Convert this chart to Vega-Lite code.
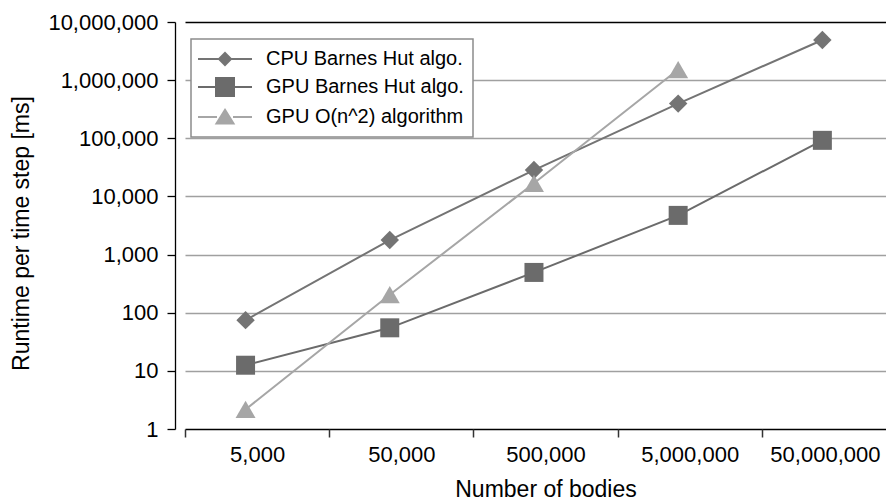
{
  "$schema": "https://vega.github.io/schema/vega-lite/v6.json",
  "autosize": "none",
  "padding": {"left": 175, "top": 22, "right": 0, "bottom": 72},
  "width": 711,
  "height": 407,
  "background": "white",
  "config": {"view": {"stroke": null}, "font": "Liberation Sans"},
  "data": {
    "values": [
      {"series": "CPU Barnes Hut algo.", "bodies": "5,000", "runtime": 74.5},
      {"series": "CPU Barnes Hut algo.", "bodies": "50,000", "runtime": 1775},
      {"series": "CPU Barnes Hut algo.", "bodies": "500,000", "runtime": 28400},
      {"series": "CPU Barnes Hut algo.", "bodies": "5,000,000", "runtime": 395000},
      {"series": "CPU Barnes Hut algo.", "bodies": "50,000,000", "runtime": 4910000},
      {"series": "GPU Barnes Hut algo.", "bodies": "5,000", "runtime": 12.5},
      {"series": "GPU Barnes Hut algo.", "bodies": "50,000", "runtime": 55},
      {"series": "GPU Barnes Hut algo.", "bodies": "500,000", "runtime": 493},
      {"series": "GPU Barnes Hut algo.", "bodies": "5,000,000", "runtime": 4720},
      {"series": "GPU Barnes Hut algo.", "bodies": "50,000,000", "runtime": 92200},
      {"series": "GPU O(n^2) algorithm", "bodies": "5,000", "runtime": 2.17},
      {"series": "GPU O(n^2) algorithm", "bodies": "50,000", "runtime": 204},
      {"series": "GPU O(n^2) algorithm", "bodies": "500,000", "runtime": 16800},
      {"series": "GPU O(n^2) algorithm", "bodies": "5,000,000", "runtime": 1520000}
    ]
  },
  "encoding": {
    "x": {
      "field": "bodies",
      "type": "ordinal",
      "bandPosition": 0.42,
      "scale": {
        "type": "band",
        "domain": ["5,000", "50,000", "500,000", "5,000,000", "50,000,000"],
        "range": [10, 731],
        "paddingInner": 0,
        "paddingOuter": 0
      },
      "axis": {
        "title": "Number of bodies",
        "tickBand": "extent",
        "domain": false,
        "grid": false,
        "labelAngle": 0,
        "labelFontSize": 22,
        "labelColor": "black",
        "labelPadding": 7,
        "labelOffset": {"condition": {"test": "datum.value === '50,000,000'", "value": -9}, "value": 0},
        "tickSize": 8,
        "tickColor": "#333333",
        "tickWidth": 1.5,
        "titleFontSize": 23,
        "titleFontWeight": "normal",
        "titleColor": "black",
        "titlePadding": 13
      }
    },
    "y": {
      "field": "runtime",
      "type": "quantitative",
      "scale": {"type": "log", "domain": [1, 10000000], "nice": false},
      "axis": {
        "title": "Runtime per time step [ms]",
        "values": [1, 10, 100, 1000, 10000, 100000, 1000000, 10000000],
        "format": ",",
        "grid": true,
        "gridColor": {"condition": {"test": "datum.value == 1 || datum.value == 10000000", "value": "black"}, "value": "#a0a0a0"},
        "gridWidth": 1.5,
        "domainColor": "black",
        "domainWidth": 1.3,
        "tickColor": "black",
        "tickSize": 8,
        "tickWidth": 1.3,
        "labelFontSize": 22,
        "labelColor": "black",
        "labelPadding": 9,
        "titleFontSize": 23,
        "titleFontWeight": "normal",
        "titleColor": "black",
        "titlePadding": 14,
        "titleY": 211
      }
    },
    "color": {
      "field": "series",
      "type": "nominal",
      "scale": {
        "domain": ["CPU Barnes Hut algo.", "GPU Barnes Hut algo.", "GPU O(n^2) algorithm"],
        "range": ["#747474", "#6b6b6b", "#a6a6a6"]
      },
      "legend": {
        "title": null,
        "orient": "none",
        "legendX": 16,
        "legendY": 17,
        "padding": 9,
        "fillColor": "white",
        "strokeColor": "#8c8c8c",
        "labelFontSize": 20,
        "labelColor": "black",
        "labelOffset": 30,
        "labelLimit": 400,
        "symbolSize": 400,
        "symbolOffset": 14,
        "symbolStrokeWidth": 2,
        "symbolOpacity": 1,
        "rowPadding": 5,
        "encode": {
          "legend": {"update": {"strokeWidth": {"value": 1.5}}},
          "symbols": {
            "update": {
              "fill": {"signal": "scale('color', datum.value)"},
              "stroke": {"signal": "scale('color', datum.value)"},
              "strokeWidth": {"value": 2},
              "opacity": {"value": 1}
            }
          }
        }
      }
    }
  },
  "layer": [
    {"mark": {"type": "line", "strokeWidth": 2}},
    {
      "transform": [{"filter": "false"}],
      "mark": {"type": "point", "filled": true, "opacity": 1, "strokeWidth": 2},
      "encoding": {
        "shape": {
          "field": "series",
          "type": "nominal",
          "scale": {
            "domain": ["CPU Barnes Hut algo.", "GPU Barnes Hut algo.", "GPU O(n^2) algorithm"],
            "range": [
              "M-2.7,0H-0.6M0.6,0H2.7M-0.6,0L0,-0.6L0.6,0L0,0.6Z",
              "M-2.7,0H-0.9M0.9,0H2.7M-0.9,-0.9H0.9V0.9H-0.9Z",
              "M-2.7,0H-0.8M0.8,0H2.7M0,-0.72L0.85,0.65L-0.85,0.65Z"
            ]
          }
        }
      }
    },
    {
      "transform": [{"filter": "datum.series === 'CPU Barnes Hut algo.'"}],
      "mark": {"type": "point", "filled": true, "opacity": 1, "size": 340, "strokeWidth": 0, "shape": "diamond"}
    },
    {
      "transform": [{"filter": "datum.series === 'GPU Barnes Hut algo.'"}],
      "mark": {"type": "point", "filled": true, "opacity": 1, "size": 361, "strokeWidth": 0, "shape": "square"}
    },
    {
      "transform": [{"filter": "datum.series === 'GPU O(n^2) algorithm'"}],
      "mark": {"type": "point", "filled": true, "opacity": 1, "size": 400, "strokeWidth": 0, "shape": "triangle-up"}
    }
  ]
}
